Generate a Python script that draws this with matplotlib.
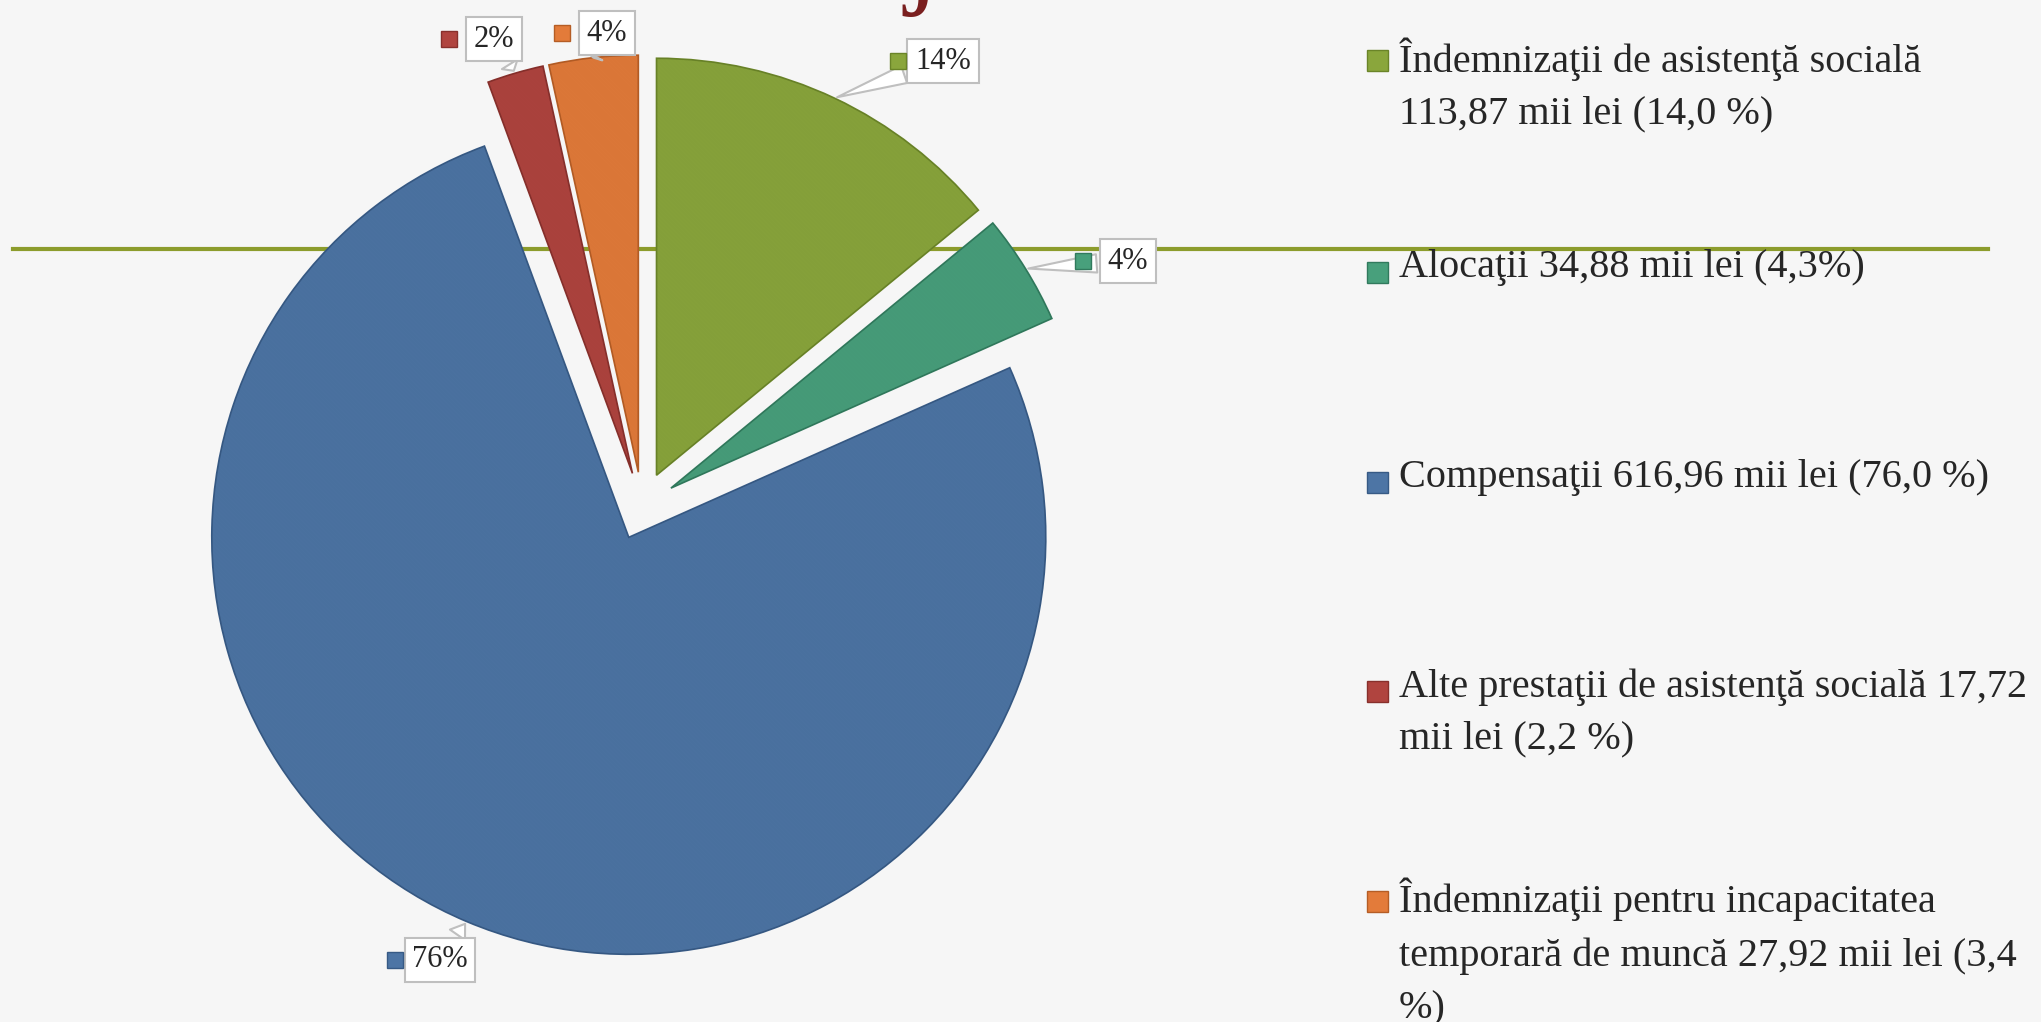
import numpy as np
import matplotlib.pyplot as plt
from matplotlib.patches import Rectangle, Wedge

# data (mii lei), in pie order starting at 12 o'clock, clockwise
categories = [
    "Îndemnizaţii de asistenţă socială",
    "Alocaţii",
    "Compensaţii",
    "Alte prestaţii de asistenţă socială",
    "Îndemnizaţii pentru incapacitatea temporară de muncă",
]
values = [113.87, 34.88, 616.96, 17.72, 27.92]
pct_labels = ["14%", "4%", "76%", "2%", "4%"]
legend_labels = [
    "Îndemnizaţii de asistenţă socială\n113,87 mii lei (14,0 %)",
    "Alocaţii 34,88 mii lei (4,3%)",
    "Compensaţii 616,96 mii lei (76,0 %)",
    "Alte prestaţii de asistenţă socială 17,72\nmii lei (2,2 %)",
    "Îndemnizaţii pentru incapacitatea\ntemporară de muncă 27,92 mii lei (3,4\n%)",
]

colors = ["#8aa63c", "#48a07c", "#4d75a5", "#b0443f", "#e37b3a"]
edges = ["#6a8428", "#317a5d", "#375a85", "#88302c", "#b55d25"]

# layout in pixels (figure is 2041 x 1022, y grows downward)
W, H = 2041, 1022
center = (642, 506)
radius = 417
label_pos = [(943, 61), (1128, 261), (440, 960), (494, 39), (607, 33)]
legend_y = [60, 272, 482, 691, 901]

fig = plt.figure(figsize=(W / 100, H / 100), dpi=100)
fig.patch.set_facecolor("#f6f6f6")
ax = fig.add_axes([0, 0, 1, 1])
ax.set_facecolor("#f6f6f6")

# olive rule across the slide, behind the pie
ax.plot([13, 1988], [249, 249], color="#8c9c2c", lw=3, zorder=0)

plt.rcParams["hatch.linewidth"] = 2.0
wedges, _ = ax.pie(values, colors=colors, startangle=-90, counterclock=True,
                   center=center, radius=radius, explode=[34] * len(values),
                   wedgeprops=dict(linewidth=1.2), frame=False)
for w, ec in zip(wedges, edges):
    w.set_edgecolor(ec)
    w.set_zorder(2)
    # faint diagonal stripes like the original texture
    ax.add_patch(Wedge(w.center, w.r, w.theta1, w.theta2, facecolor="none",
                       edgecolor=(0, 0, 0, 0.04), hatch="\\" * 8, linewidth=0, zorder=3))

# callout labels with a little colour key in front
for w, txt, (bx, by), c, ec in zip(wedges, pct_labels, label_pos, colors, edges):
    tm = np.deg2rad((w.theta1 + w.theta2) / 2)
    anchor = (w.center[0] + w.r * np.cos(tm), w.center[1] + w.r * np.sin(tm))
    ax.annotate(txt, xy=anchor, xytext=(bx, by), ha="center", va="center",
                fontsize=22, family="Liberation Serif", color="#262626", zorder=5,
                bbox=dict(boxstyle="square,pad=0.25", fc="white", ec="#bfbfbf", lw=1.5),
                arrowprops=dict(arrowstyle="wedge,tail_width=0.6,shrink_factor=0.5",
                                fc="white", ec="#bfbfbf", lw=1.5))
    ax.add_patch(Rectangle((bx - 45 - 8, by - 8), 16, 16, fc=c, ec=ec, lw=1, zorder=5))

# legend on the right
for txt, y, c, ec in zip(legend_labels, legend_y, colors, edges):
    ax.add_patch(Rectangle((1367, y - 10), 21, 21, fc=c, ec=ec, lw=1, zorder=5))
    ax.text(1399, y - 23, txt, ha="left", va="top", fontsize=29,
            family="Liberation Serif", color="#262626", linespacing=1.55, zorder=5)

# tail of the slide title, cut off at the top edge
ax.text(922, -8, "j", ha="center", va="baseline", fontsize=85,
        family="Liberation Serif", color="#7a1f1f", zorder=5)

ax.set_xlim(0, W)
ax.set_ylim(H, 0)
ax.set_aspect("equal")
ax.axis("off")

fig.savefig("out.png", dpi=100, facecolor=fig.get_facecolor())
